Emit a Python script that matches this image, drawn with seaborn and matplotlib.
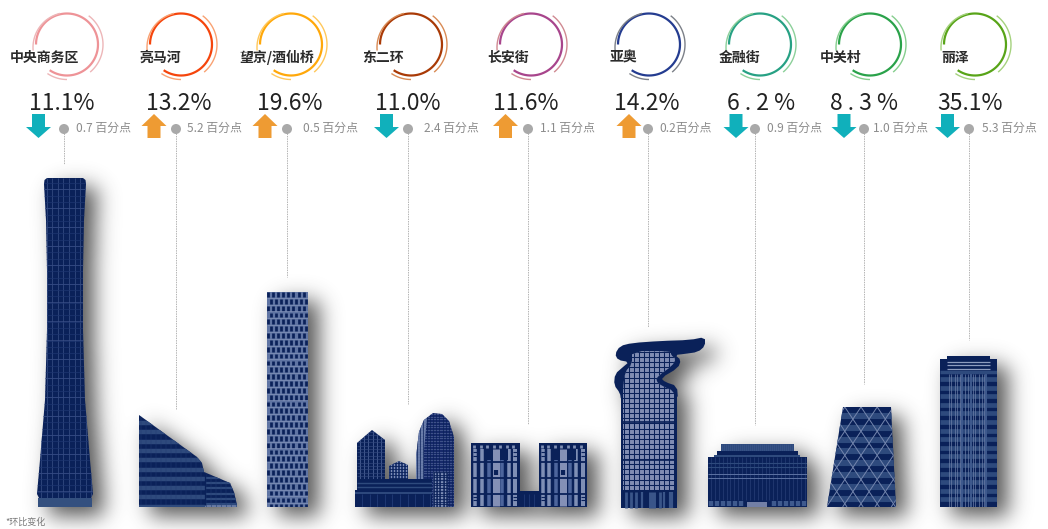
"""
Office vacancy rates by Beijing business district, skyline infographic
"""

import numpy as np
import pandas as pd
import matplotlib
matplotlib.use("Agg")
import matplotlib.pyplot as plt
from matplotlib.patches import Polygon, Rectangle
from matplotlib.path import Path
import seaborn as sns

# data
districts = ["中央商务区", "亮马河", "望京/酒仙桥", "东二环", "长安街", "亚奥", "金融街", "中关村", "丽泽"]
rates = [11.1, 13.2, 19.6, 11.0, 11.6, 14.2, 6.2, 8.3, 35.1]
changes = [-0.7, 5.2, 0.5, -2.4, 1.1, 0.2, -0.9, -1.0, -5.3]

# layout in image pixels, one entry per district
ring_x = [67, 181, 291, 411, 531, 649, 760, 870, 975]
name_x = [10, 139.5, 239, 362.5, 487.5, 610, 719, 819.5, 941.5]
rate_x = [62, 179, 289.5, 408, 525.5, 647, 761, 864, 970]
arrow_x = [38.5, 154, 265, 386.5, 505.5, 629, 736, 844, 947.5]
dot_x = [64, 176, 287, 408, 528, 648, 755, 864, 969]
change_x = [76, 187, 303, 424, 540, 659, 767, 873, 982]
leader_end = [164, 409, 277, 404, 424, 327, 425, 384, 340]
ring_main = ["#EE9397", "#F5450C", "#FFA80A", "#A93A06", "#A8458C", "#243C90", "#27A184", "#2AA24A", "#58A418"]
ring_outer = ["#EDB6B8", "#F9A273", "#FFC85C", "#D98B55", "#D08A92", "#7C8088", "#8CD09A", "#86CE8E", "#A5D27E"]

NAVY = "#0A2159"
MID = "#2E4A7D"
PALE = "#7F8FB5"
UP = "#EE9B33"
DOWN = "#10B0BB"

sns.set_theme(style="white")
plt.rcParams["font.family"] = ["Noto Sans CJK SC", "DejaVu Sans"]

fig = plt.figure(figsize=(10.48, 5.29), dpi=100, facecolor="white")
ax = fig.add_axes([0, 0, 1, 1])
silhouettes = []


def smooth(points, rounds=2):
    """Chaikin corner cutting for the curvy outlines"""
    pts = np.asarray(points, dtype=float)
    for _ in range(rounds):
        nxt = np.roll(pts, -1, axis=0)
        pts = np.column_stack([0.75 * pts + 0.25 * nxt, 0.25 * pts + 0.75 * nxt]).reshape(-1, 2)
    return pts


def block(points, color=NAVY, z=3, shadow=True):
    patch = Polygon(points, closed=True, facecolor=color, edgecolor="none", zorder=z)
    ax.add_patch(patch)
    if shadow:
        silhouettes.append(np.asarray(points, dtype=float))
    return patch


def rect(x0, y0, x1, y1):
    return [(x0, y0), (x1, y0), (x1, y1), (x0, y1)]


def vgrid(clip, xs, y0, y1, color, lw, z=4):
    art = ax.vlines(xs, y0, y1, colors=color, linewidth=lw, zorder=z, capstyle="butt")
    art.set_clip_path(clip)


def hgrid(clip, ys, x0, x1, color, lw, z=4):
    art = ax.hlines(ys, x0, x1, colors=color, linewidth=lw, zorder=z, capstyle="butt")
    art.set_clip_path(clip)


def draw_cbd():
    outline = [(44, 184), (44.5, 180), (47, 178), (83, 178), (85.5, 180), (86, 184), (84, 220), (83, 270),
               (83, 330), (85, 400), (90, 460), (93, 494), (91, 498), (39, 498), (37, 494), (40, 460),
               (45, 400), (47, 330), (47, 270), (46, 220)]
    p = block(outline)
    vgrid(p, np.arange(41, 92, 5.6), 178, 498, "#3F568C", 0.45)
    hgrid(p, np.arange(183, 498, 6.3), 36, 94, "#1E3670", 0.5)
    hgrid(p, np.arange(189, 498, 18.9), 36, 94, "#3A5088", 0.5)
    block(rect(38, 498, 92, 507), "#34507F")


def draw_liangmahe():
    outline = [(139, 415), (197, 457), (202, 463), (204, 472), (230, 483), (234, 492), (237, 505),
               (237, 507), (139, 507)]
    p = block(outline)
    hgrid(p, np.arange(423, 507, 9.3), 139, 205, MID, 3.2)
    hgrid(p, np.arange(478, 507, 5.2), 205, 237, MID, 1.6)
    vgrid(p, np.arange(141, 238, 5), 415, 505, "#223A72", 0.35)
    ax.vlines(205, 473, 505, colors=NAVY, linewidth=0.9, zorder=5)
    p2 = block(rect(139, 504.5, 237, 507), "#6A7CA6")
    vgrid(p2, np.arange(141, 238, 5), 504, 507, MID, 0.5, z=5)


def draw_wangjing():
    p = block(rect(267, 292, 308, 507), "#5F74A3")
    ys = np.arange(292, 507, 6.85)
    for i, y in enumerate(ys):
        xs = np.arange(268.2 + (i % 2) * 2.5, 309, 5.05)
        vgrid(p, xs, y, y + 4.8, NAVY, 1.95)
        hgrid(p, [y + 5.7], 267, 308, "#8494BA", 0.45)


def draw_dongerhuan():
    tall = [(416, 507), (416, 457), (419, 432), (424, 420), (433, 413), (442, 414), (449, 421), (454, 437), (454, 507)]
    p = block(tall, "#16296A", z=3)
    strip = [(416, 507), (416, 457), (419, 432), (424, 420), (427, 418), (424, 450), (424, 507)]
    block(strip, "#6A7DAA", z=3, shadow=False)
    hgrid(p, np.arange(414, 507, 2.7), 416, 454, "#5E72A2", 0.4)
    vgrid(p, np.arange(417, 455, 3.2), 413, 507, NAVY, 0.5)
    low = block(rect(433, 472, 448, 507), "#7F8FB5", z=3, shadow=False)
    low.set_clip_path(p)
    hgrid(p, np.arange(472, 507, 2.7), 433, 448, NAVY, 0.6, z=4)
    vgrid(p, np.arange(434, 449, 3.2), 472, 507, NAVY, 0.6, z=4)

    left = block([(357, 443), (372, 430), (385, 440), (385, 482), (357, 482)], z=5)
    vgrid(left, np.arange(360, 386, 4.2), 430, 482, "#4F659A", 0.55, z=6)
    hgrid(left, np.arange(432, 482, 3.4), 357, 385, "#34497F", 0.45, z=6)
    mid = block([(389, 466), (399, 461), (408, 465), (408, 482), (389, 482)], "#233A75", z=5)
    vgrid(mid, np.arange(391, 408, 3), 460, 482, "#8D9CC0", 0.6, z=6)
    hgrid(mid, np.arange(463, 482, 3), 389, 408, NAVY, 0.6, z=6)

    upper = block(rect(357, 479, 432, 490), z=6)
    hgrid(upper, [483, 487], 357, 432, MID, 1.0, z=7)
    lower = block(rect(355, 490, 432, 507), z=6)
    hgrid(lower, [492.5], 355, 432, MID, 1.4, z=7)
    vgrid(lower, np.arange(362, 432, 7.6), 494, 507, "#1E3772", 0.7, z=7)


def draw_changan():
    strips = [(2.5, 3.5, PALE), (9, 3.5, PALE), (16, 3.5, "#4D659C"), (21, 7, "#8490B6"),
              (29.5, 3.5, "#4D659C"), (36, 3.5, PALE), (42, 4, PALE)]
    for x0 in (471, 538.5):
        p = block(rect(x0, 443, x0 + 48.5, 507))
        for off, w, col in strips:
            vgrid(p, [x0 + off + w / 2], 449, 505.5, col, w * 0.72)
        # dark blocks beside the centre strip and the cross bands
        for dx, dw in ((13, 7), (29, 8)):
            ax.add_patch(Rectangle((x0 + dx, 449), dw, 11, facecolor=NAVY, edgecolor="none", zorder=5))
        hgrid(p, [461.5, 477.5, 494], x0, x0 + 49, NAVY, 1.3, z=5)
        hgrid(p, [452, 456, 497, 500], x0 + 2, x0 + 6, NAVY, 0.8, z=5)
        hgrid(p, [452, 456, 497, 500], x0 + 42, x0 + 46, NAVY, 0.8, z=5)
        vgrid(p, [x0 + 24.5], 470, 475, NAVY, 3, z=5)
        vgrid(p, np.arange(x0 + 3, x0 + 47, 6.5), 445, 447.5, PALE, 2, z=5)
    low = block(rect(519, 491, 539, 507))
    vgrid(low, [524, 529, 534], 494, 507, "#203A75", 0.6)


def draw_yaao():
    ribbon = smooth([(615, 354), (620, 346), (632, 343), (660, 341), (690, 340), (705, 337), (705, 346),
                     (698, 352), (684, 354), (675, 355), (681, 360), (678, 368), (661, 378), (665, 382),
                     (677, 386), (678, 400), (621, 400), (620, 393), (614, 385), (615, 374), (623, 367),
                     (629, 362), (618, 360)], 1)
    block(ribbon)
    block(rect(621, 392, 676.5, 508))
    inner = smooth([(632, 351), (671, 351), (671, 355), (676, 359), (672, 366), (658, 376), (656, 381), (662, 386),
                    (674, 391), (674, 400), (623, 400), (623, 388), (625, 372), (632, 364)], 1)
    p = block(inner, "#808DB3", z=4, shadow=False)
    p2 = block(rect(623, 395, 674, 491), "#808DB3", z=4, shadow=False)
    for clip in (p, p2):
        vgrid(clip, np.arange(623.5, 676, 5.1), 351, 491, NAVY, 0.75, z=5)
        hgrid(clip, np.arange(352, 492, 5.1), 621, 676, NAVY, 0.75, z=5)
    hgrid(p2, [422, 460], 621, 676, NAVY, 1.2, z=5)
    ax.vlines([626, 631, 636, 642, 652, 660, 664, 671], 492, 507.5, colors="#3A5589",
              linewidth=[2.0, 2.0, 2.0, 1.6, 5, 2.0, 1.6, 3.0], zorder=5)


def draw_jinrong():
    top = block(rect(721, 444, 794, 451), "#2E4A7D")
    vgrid(top, np.arange(722, 794, 2), 444, 451, "#3A5589", 0.5)
    block(rect(717, 451, 798, 455))
    block(rect(714, 455, 800, 457.5), "#2E4A7D")
    p = block(rect(708, 457, 807, 507))
    vgrid(p, np.arange(711, 807, 3.9), 457, 500, "#223A72", 0.6)
    hgrid(p, [463, 467], 708, 807, MID, 0.8)
    hgrid(p, [474, 477.5], 708, 807, "#5C72A3", 0.7)
    xs = [711, 716.5, 722.5, 728.5, 734.5, 740.5, 773.5, 779.5, 785.5, 791.5, 797.5, 803.5]
    vgrid(p, xs, 500.5, 506, "#3F5A8E", 3.2)
    ax.add_patch(Rectangle((747, 502), 20, 5, facecolor="#727FA6", edgecolor="none", zorder=5))


def draw_zhongguancun():
    p = block([(843, 407), (891, 407), (896, 507), (827, 507)])
    hgrid(p, np.arange(416, 507, 11.8), 825, 898, MID, 4.4)
    for x in np.arange(780, 960, 16.2):
        for sign in (1, -1):
            art = ax.plot([x, x + sign * 67], [407, 507], color="#7486AE", lw=0.7, zorder=5, solid_capstyle="butt")[0]
            art.set_clip_path(p)


def draw_lize():
    block(rect(947, 356, 990, 360))
    p = block(rect(940, 359, 997, 507))
    hgrid(p, np.arange(379, 507, 8.6), 940, 997, MID, 3.4)
    hgrid(p, [361.5, 365, 369], 947, 990, "#8D9CC0", 0.9, z=5)
    hgrid(p, [372], 940, 997, MID, 2.5, z=5)
    xs = [949, 951, 955, 957, 960, 965, 968, 973, 975, 979, 982, 984]
    vgrid(p, xs, 374, 507, "#7486AE", 0.45, z=5)
    vgrid(p, [962, 971, 986], 374, 507, "#3F5A8E", 1.4)


def draw_shadow():
    h, w = 529, 1048
    gx, gy = np.meshgrid(np.arange(w) + 0.5, np.arange(h) + 0.5)
    grid = np.column_stack([gx.ravel(), gy.ravel()])
    mask = np.zeros(h * w, dtype=bool)
    for pts in silhouettes:
        # the shadow falls to the lower right
        mask |= Path(pts + np.array([11, 9])).contains_points(grid)
    mask = mask.reshape(h, w).astype(float)
    kx = np.arange(-36, 37)
    kernel = np.exp(-kx ** 2 / (2 * 10.5 ** 2))
    kernel /= kernel.sum()
    soft = np.apply_along_axis(lambda r: np.convolve(r, kernel, mode="same"), 0, mask)
    soft = np.apply_along_axis(lambda r: np.convolve(r, kernel, mode="same"), 1, soft)
    img = np.zeros((h, w, 4))
    img[..., :3] = 0.25
    img[..., 3] = np.clip(soft * 0.88, 0, 1)
    ax.imshow(img, extent=(0, w, h, 0), aspect="auto", zorder=1, interpolation="bilinear")


def draw_rings():
    for cx, main, outer in zip(ring_x, ring_main, ring_outer):
        # angle, angle, radius, x shift, y shift, colour, width
        arcs = [(180, -124, 31, 0, 0.5, main, 1.6),
                (185, 103, 35, 1, 3.5, outer, 1.0),
                (53, -50, 36, 0, 0.5, outer, 1.0),
                (-124, -90, 35, 0, 0.5, outer, 1.0)]
        for a0, a1, r, sx, sy, col, lw in arcs:
            t = np.radians(np.linspace(a0, a1, 80))
            ax.plot(cx + sx + r * np.cos(t), 44 + sy - r * np.sin(t), color=col, lw=lw, zorder=2,
                    solid_capstyle="butt")


def draw_arrow(x, up):
    if up:
        pts = [(x, 114), (x + 12.5, 126), (x + 6.5, 126), (x + 6.5, 138), (x - 6.5, 138), (x - 6.5, 126), (x - 12.5, 126)]
        col = UP
    else:
        pts = [(x - 6.5, 114), (x + 6.5, 114), (x + 6.5, 127), (x + 12.5, 127), (x, 138), (x - 12.5, 127), (x - 6.5, 127)]
        col = DOWN
    ax.add_patch(Polygon(pts, closed=True, facecolor=col, edgecolor="none", zorder=3))


for draw in (draw_cbd, draw_liangmahe, draw_wangjing, draw_dongerhuan, draw_changan, draw_yaao,
             draw_jinrong, draw_zhongguancun, draw_lize):
    draw()
draw_shadow()
draw_rings()

# leader lines and their dots
for x, end in zip(dot_x, leader_end):
    ax.plot([x, x], [133, end], color="#B4B4B4", lw=0.7, ls=(0, (1.5, 1)), zorder=2)
dots = pd.DataFrame({"x": dot_x, "y": [129] * len(dot_x)})
sns.scatterplot(data=dots, x="x", y="y", s=52, color="#A9A9A9", edgecolor="none", ax=ax, zorder=3, legend=False)

for i, name in enumerate(districts):
    ax.text(name_x[i], 62, name, fontsize=10, fontweight="bold", color="#2B2B2B", va="baseline", ha="left", zorder=6)
    label = f"{rates[i]:.1f}%"
    if rates[i] < 10:
        label = " ".join(label)
    ax.text(rate_x[i], 110, label, fontsize=16.5, fontweight="light", color="#222222", va="baseline", ha="center", zorder=6)
    draw_arrow(arrow_x[i], changes[i] > 0)
    gap = "" if districts[i] == "亚奥" else " "
    ax.text(change_x[i], 132, f"{abs(changes[i]):.1f}{gap}百分点", fontsize=8.6, color="#8C8C8C", va="baseline", ha="left", zorder=6)

ax.text(5, 525, "*环比变化", fontsize=6.5, color="#777777", va="baseline", ha="left")

ax.set_xlim(0, 1048)
ax.set_ylim(529, 0)
ax.axis("off")
fig.savefig("out.png", dpi=100, facecolor="white")
